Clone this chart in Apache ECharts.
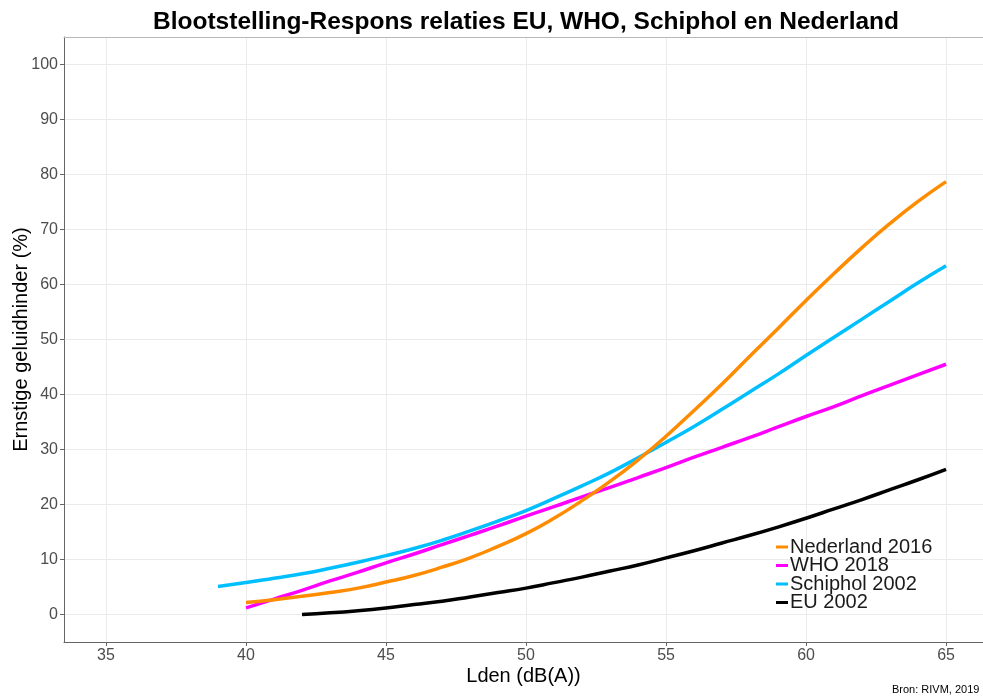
<!DOCTYPE html>
<html>
<head>
<meta charset="utf-8">
<script src="https://cdn.jsdelivr.net/npm/echarts@6/dist/echarts.min.js"></script>
<style>
html,body{margin:0;padding:0;background:#fff;}
#chart{width:983px;height:698px;}
</style>
</head>
<body>
<div id="chart"></div>
<script>
// ---- data ----
var titleText = 'Blootstelling-Respons relaties EU, WHO, Schiphol en Nederland';
var xName = 'Lden (dB(A))';
var yName = 'Ernstige geluidhinder (%)';
var caption = 'Bron: RIVM, 2019';

var xTicks = [35, 40, 45, 50, 55, 60, 65];
var yTicks = [0, 10, 20, 30, 40, 50, 60, 70, 80, 90, 100];

var seriesNames = ['Nederland 2016', 'WHO 2018', 'Schiphol 2002', 'EU 2002'];

var ldenNed = [40,41,42,43,44,45,46,47,48,49,50,51,52,53,54,55,56,57,58,59,60,61,62,63,64,65];
var valNed  = [2.2,2.7,3.3,4.0,4.8,5.9,7.1,8.6,10.3,12.4,14.7,17.5,20.7,24.2,28.1,32.4,37.1,41.9,47.0,52.0,57.1,62.0,66.7,71.1,75.1,78.7];

var ldenWho = [40,41,42,43,44,45,46,47,48,49,50,51,52,53,54,55,56,57,58,59,60,61,62,63,64,65];
var valWho  = [1.2,2.8,4.4,6.1,7.7,9.4,11.0,12.7,14.4,16.1,17.9,19.6,21.4,23.1,24.9,26.7,28.6,30.4,32.2,34.1,36.0,37.8,39.8,41.7,43.6,45.5];

var ldenSch = [39,40,41,42,43,44,45,46,47,48,49,50,51,52,53,54,55,56,57,58,59,60,61,62,63,64,65];
var valSch  = [5.1,5.8,6.6,7.4,8.4,9.5,10.7,12.0,13.5,15.2,17.0,18.9,21.1,23.4,25.8,28.5,31.3,34.2,37.3,40.5,43.7,47.1,50.4,53.7,57.0,60.3,63.4];

var ldenEu = [42,43,44,45,46,47,48,49,50,51,52,53,54,55,56,57,58,59,60,61,62,63,64,65];
var valEu  = [0.0,0.3,0.7,1.2,1.8,2.4,3.2,4.0,4.8,5.8,6.8,7.9,9.0,10.3,11.6,13.0,14.4,15.9,17.5,19.2,20.9,22.7,24.5,26.4];

var colors = ['#FF8C00', '#FF00FF', '#00BFFF', '#000000'];

function zip(xs, ys) { return xs.map(function (x, i) { return [x, ys[i]]; }); }

var seriesData = [zip(ldenNed, valNed), zip(ldenWho, valWho), zip(ldenSch, valSch), zip(ldenEu, valEu)];

var chart = echarts.init(document.getElementById('chart'), null, {renderer: 'canvas'});

var FONT = 'Liberation Sans, Arial, sans-serif';

var series = seriesNames.map(function (n, i) {
  return {
    name: n,
    type: 'line',
    data: seriesData[i],
    showSymbol: false,
    smooth: true,
    color: colors[i],
    lineStyle: {width: 3.5, color: colors[i]},
    itemStyle: {color: colors[i]},
    z: 10 - i
  };
});

chart.setOption({
  animation: false,
  backgroundColor: '#ffffff',
  title: {
    text: titleText,
    left: 521,
    top: 5,
    textAlign: 'center',
    textStyle: {fontFamily: FONT, fontSize: 24.5, fontWeight: 'bold', color: '#000'}
  },
  grid: {
    left: 64, top: 37, right: 0, bottom: 56,
    show: false,
    containLabel: false,
    outerBoundsMode: 'none'
  },
  legend: {
    data: seriesNames,
    orient: 'vertical',
    left: 776,
    top: 537,
    icon: 'rect',
    itemWidth: 12,
    itemHeight: 3,
    itemGap: -1.5,
    padding: 0,
    textStyle: {fontFamily: FONT, fontSize: 20, color: '#1a1a1a', lineHeight: 18, padding: [0, 0, 0, -3]}
  },
  xAxis: [{
    type: 'value',
    min: 33.5,
    max: 66.32,
    name: xName,
    nameLocation: 'middle',
    nameGap: 24,
    nameMoveOverlap: false,
    nameTextStyle: {fontFamily: FONT, fontSize: 20, color: '#000'},
    axisLine: {show: true, onZero: false, lineStyle: {color: '#666', width: 1}},
    axisTick: {show: true, length: 4, customValues: xTicks, lineStyle: {color: '#666'}},
    axisLabel: {customValues: xTicks, fontFamily: FONT, fontSize: 16, color: '#4d4d4d', margin: 6},
    splitLine: {show: true, lineStyle: {color: '#ebebeb', width: 1}}
  }, {
    type: 'value',
    position: 'top',
    min: 33.5,
    max: 66.32,
    axisLine: {show: true, onZero: false, lineStyle: {color: '#b8b8b8', width: 1}},
    axisTick: {show: false},
    axisLabel: {show: false},
    splitLine: {show: false}
  }],
  yAxis: {
    type: 'value',
    min: -5,
    max: 105,
    name: yName,
    nameLocation: 'middle',
    nameGap: 33,
    nameMoveOverlap: false,
    nameTextStyle: {fontFamily: FONT, fontSize: 20, color: '#000'},
    axisLine: {show: true, onZero: false, lineStyle: {color: '#666', width: 1}},
    axisTick: {show: true, length: 4, customValues: yTicks, lineStyle: {color: '#666'}},
    axisLabel: {customValues: yTicks, fontFamily: FONT, fontSize: 16, color: '#4d4d4d', margin: 6},
    splitLine: {show: true, lineStyle: {color: '#ebebeb', width: 1}}
  },
  graphic: [{
    type: 'text',
    left: 892,
    top: 684,
    style: {text: caption, fontFamily: FONT, fontSize: 11, fill: '#000'}
  }],
  series: series
});
</script>
</body>
</html>
